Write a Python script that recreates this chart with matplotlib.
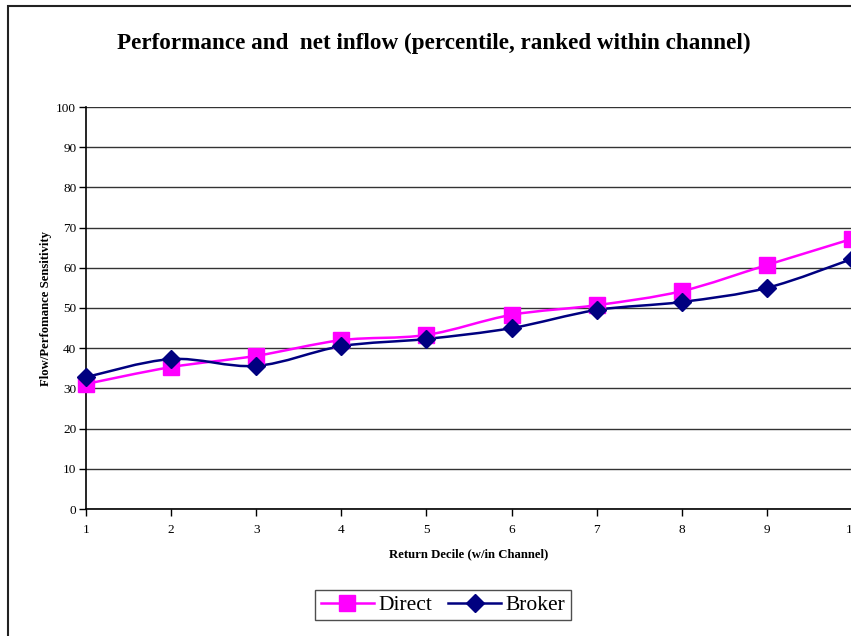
import numpy as np
import matplotlib
matplotlib.use('Agg')
import matplotlib.pyplot as plt
from matplotlib.path import Path
from matplotlib.patches import PathPatch, Rectangle
from matplotlib.lines import Line2D

# data
DECILES = [1, 2, 3, 4, 5, 6, 7, 8, 9, 10]
DIRECT = [31.1, 35.3, 38.1, 42.0, 43.3, 48.3, 50.7, 54.2, 60.7, 67.2]
BROKER = [32.8, 37.3, 35.6, 40.5, 42.3, 45.0, 49.5, 51.5, 55.0, 62.2]
Y_TICKS = [0, 10, 20, 30, 40, 50, 60, 70, 80, 90, 100]

plt.rcParams['font.family'] = ['Liberation Serif', 'DejaVu Serif']

W, H = 851, 636
fig = plt.figure(figsize=(W / 100, H / 100), dpi=100)

# outer chart border (clipped at right and bottom)
fig.patches.append(Rectangle((8 / W, -0.05), 1.2, 1 - 6 / H + 0.05,
                             transform=fig.transFigure, fill=False,
                             edgecolor='#222222', linewidth=1.5))

ax = fig.add_axes([86 / W, 1 - 509 / H, (852 - 86) / W, (509 - 107) / H])


def smooth_path(xs, ys):
    # Catmull-Rom style bezier, like Excel's smoothed line
    pts = np.column_stack([xs, ys]).astype(float)
    n = len(pts)
    verts = [pts[0]]
    codes = [Path.MOVETO]
    for i in range(n - 1):
        p0 = pts[i - 1] if i > 0 else pts[i]
        p1 = pts[i]
        p2 = pts[i + 1]
        p3 = pts[i + 2] if i + 2 < n else pts[i + 1]
        c1 = p1 + (p2 - p0) / 6
        c2 = p2 - (p3 - p1) / 6
        verts += [c1, c2, p2]
        codes += [Path.CURVE4] * 3
    return Path(verts, codes)


series = [('Direct', DIRECT, '#FF00FF', 's', 11),
          ('Broker', BROKER, '#000080', 'D', 9)]
handles = []
for name, vals, col, mk, ms in series:
    ax.add_patch(PathPatch(smooth_path(DECILES, vals), facecolor='none',
                           edgecolor=col, linewidth=1.8, zorder=3))
    ax.plot(DECILES, vals, linestyle='none', marker=mk, markersize=ms,
            color=col, zorder=4, clip_on=False)
    handles.append(Line2D([], [], color=col, linewidth=1.8, marker=mk,
                          markersize=ms))

ax.set_xlim(1, 10)
ax.set_ylim(0, 100)
ax.set_xticks(DECILES)
ax.set_yticks(Y_TICKS)
ax.tick_params(labelsize=9.5, length=5, width=1, direction='out', pad=2)
ax.tick_params(axis='x', pad=6)
ax.yaxis.grid(True, color='#333333', linewidth=1)
ax.set_axisbelow(True)
for s in ['top', 'right']:
    ax.spines[s].set_visible(False)
for s in ['left', 'bottom']:
    ax.spines[s].set_linewidth(1.2)

ax.set_ylabel('Flow/Perfomance Sensitivity', fontsize=9.2, fontweight='bold',
              labelpad=3)
ax.set_xlabel('Return Decile (w/in Channel)', fontsize=9.2, fontweight='bold',
              labelpad=9)

fig.text(434 / W, 1 - 43 / H,
         'Performance and  net inflow (percentile, ranked within channel)',
         ha='center', va='center', fontsize=16.7, fontweight='bold')

fig.legend(handles, ['Direct', 'Broker'], loc='center',
           bbox_to_anchor=(443 / W, 1 - 605 / H), ncol=2, fontsize=15.5,
           frameon=True, fancybox=False, edgecolor='#222222',
           handlelength=2.5, handletextpad=0.2, columnspacing=0.7,
           borderpad=0.25)

fig.savefig('out.png', dpi=100)
